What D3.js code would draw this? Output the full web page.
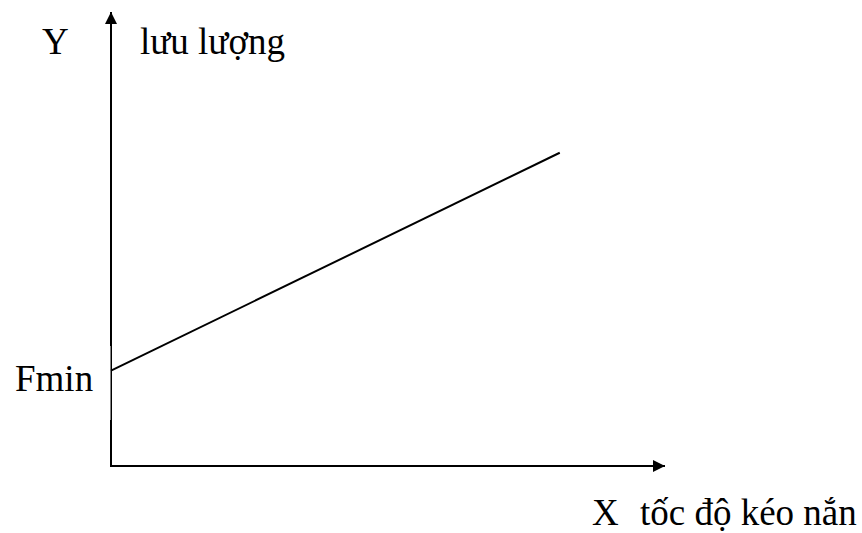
<!DOCTYPE html>
<head>
<meta charset="utf-8">
<style>
body { margin: 0; background: #fff; }
text { font-family: "Liberation Serif", "Times New Roman", serif; font-size: 37px; fill: #000; }
</style>
<script src="https://d3js.org/d3.v7.min.js"></script>
</head>
<body>
<script>
  // line: flow rises with drawing speed, starting at Fmin
  const speed = [0, 81];
  const flow = [21, 69];
  const labels = { y: "Y", yName: "lưu lượng", x: "X", xName: "tốc độ kéo nắn", fmin: "Fmin" };

  const width = 862, height = 533;
  const x = d3.scaleLinear().domain([0, 100]).range([111, 665]);
  const y = d3.scaleLinear().domain([0, 100]).range([466, 12]);

  var svg = d3.select("body").append("svg")
    .attr("width", width)
    .attr("height", height);

  var defs = svg.append("defs");
  defs.append("marker")
    .attr("id", "arrow")
    .attr("viewBox", "0 0 10 10")
    .attr("refX", 10).attr("refY", 5)
    .attr("markerWidth", 8).attr("markerHeight", 6)
    .attr("markerUnits", "strokeWidth")
    .attr("orient", "auto")
    .append("path")
      .attr("d", "M0,0L10,5L0,10z")
      .attr("fill", "#000");

  // axes
  svg.append("line")
    .attr("x1", x(0)).attr("y1", y(0))
    .attr("x2", x(0)).attr("y2", y(100))
    .attr("stroke", "#000").attr("stroke-width", 2)
    .attr("marker-end", "url(#arrow)");
  svg.append("line")
    .attr("x1", x(0) - 1).attr("y1", y(0))
    .attr("x2", x(100)).attr("y2", y(0))
    .attr("stroke", "#000").attr("stroke-width", 2)
    .attr("marker-end", "url(#arrow)");

  // white box behind Fmin label eats part of the axis
  svg.append("rect")
    .attr("x", 0).attr("y", 346)
    .attr("width", x(0) - 0.5).attr("height", 74)
    .attr("fill", "#fff");

  var line = d3.line()
    .x(function(d, i) { return x(speed[i]); })
    .y(function(d, i) { return y(flow[i]); });

  svg.append("path")
    .datum(speed)
    .attr("d", line)
    .attr("fill", "none")
    .attr("stroke", "#000")
    .attr("stroke-width", 2);

  svg.append("text").attr("x", 42).attr("y", 54).text(labels.y);
  svg.append("text").attr("x", 140).attr("y", 54).text(labels.yName);
  svg.append("text").attr("x", 15).attr("y", 391).text(labels.fmin);
  svg.append("text").attr("x", 592).attr("y", 525).text(labels.x);
  svg.append("text").attr("x", 640).attr("y", 525).text(labels.xName);
</script>
</body>
</html>
